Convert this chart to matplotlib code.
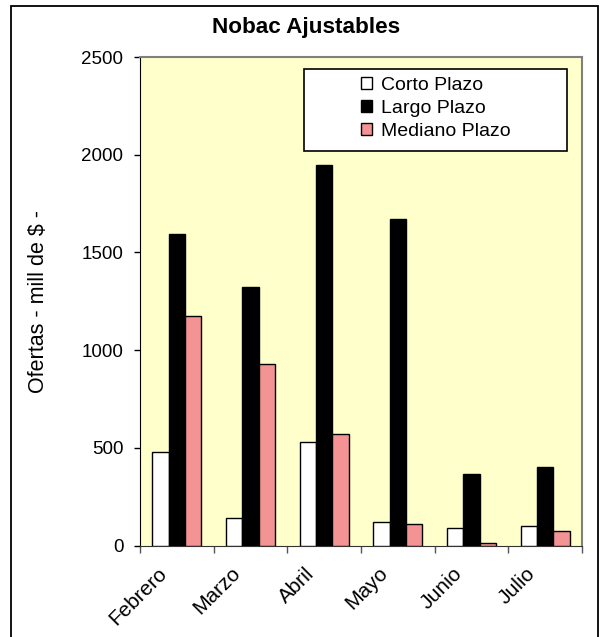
import matplotlib
matplotlib.use("Agg")
import matplotlib.pyplot as plt
from matplotlib.patches import Rectangle, Patch
from matplotlib.transforms import ScaledTranslation
import numpy as np

plt.rcParams['font.family'] = ['Liberation Sans', 'DejaVu Sans']

meses = ["Febrero", "Marzo", "Abril", "Mayo", "Junio", "Julio"]
corto_plazo = [480, 140, 528, 119, 91, 100]
largo_plazo = [1592, 1322, 1946, 1672, 364, 403]
mediano_plazo = [1174, 928, 569, 112, 13, 73]
series_names = ["Corto Plazo", "Largo Plazo", "Mediano Plazo"]
y_ticks = [0, 500, 1000, 1500, 2000, 2500]

W, H = 600, 637
fig = plt.figure(figsize=(W / 100, H / 100), dpi=100)
fig.patch.set_facecolor("white")

ax = fig.add_axes([140 / W, 1 - 545.5 / H, (582 - 140) / W, (545.5 - 57) / H])
ax.set_facecolor("#FFFFCC")

x = np.arange(len(meses))
bw = 1 / 4.5
colors = ["white", "black", "#F39393"]
for i, (vals, c) in enumerate(zip([corto_plazo, largo_plazo, mediano_plazo], colors)):
    ax.bar(x + (i - 1) * bw, vals, width=bw, color=c, edgecolor="black",
           linewidth=1.0, zorder=3)

ax.set_xlim(-0.5, len(meses) - 0.5)
ax.set_ylim(0, 2500)
ax.set_yticks(y_ticks)
ax.tick_params(axis="y", direction="out", length=4, width=1, pad=8,
               labelsize=13.5, colors="black")

# category boundary ticks, labels at centres
ax.set_xticks(np.arange(-0.5, len(meses), 1.0))
ax.set_xticklabels([])
ax.tick_params(axis="x", which="major", direction="out", length=5, width=1, color="#555555")
ax.set_xticks(x, minor=True)
ax.set_xticklabels(meses, minor=True, rotation=45, ha="right", va="top",
                   fontsize=15)
ax.tick_params(axis="x", which="minor", length=0, pad=13)
off = ScaledTranslation(-6 / 100, 0, fig.dpi_scale_trans)
for lab in ax.get_xticklabels(minor=True):
    lab.set_transform(lab.get_transform() + off)

for s in ["top", "right"]:
    ax.spines[s].set_color("#808080")
    ax.spines[s].set_linewidth(1.5)
ax.spines["left"].set_color("black")
ax.spines["bottom"].set_color("#333333")

ax.set_ylabel("Ofertas - mill de $ -", fontsize=15.5, va="center")
ax.yaxis.set_label_coords((39 - 140) / 442, 0.5)
fig.text(306 / W, 1 - 27 / H, "Nobac Ajustables", ha="center", va="center",
         fontsize=16.2, fontweight="bold")

# legend box
ax.add_patch(Rectangle((0.371, 0.8076), 0.966 - 0.371, 0.9754 - 0.8076,
                       transform=ax.transAxes, facecolor="white",
                       edgecolor="black", linewidth=1.2, zorder=5))
handles = [Patch(facecolor=c, edgecolor="black", linewidth=1.0) for c in colors]
leg = ax.legend(handles, series_names, loc="upper left",
                bbox_to_anchor=((361 - 140) / 442, (545.5 - 77) / 488.5),
                frameon=False, fontsize=14, handlelength=0.55,
                handleheight=0.55, handletextpad=0.5, labelspacing=0.3,
                borderpad=0, borderaxespad=0)
leg.set_zorder(6)

fig.add_artist(Rectangle((11 / W, -0.01), (598 - 11) / W, 1 - 6 / H + 0.01,
                         transform=fig.transFigure, fill=False,
                         edgecolor="black", linewidth=1.3))

fig.savefig("out.png", dpi=100)
